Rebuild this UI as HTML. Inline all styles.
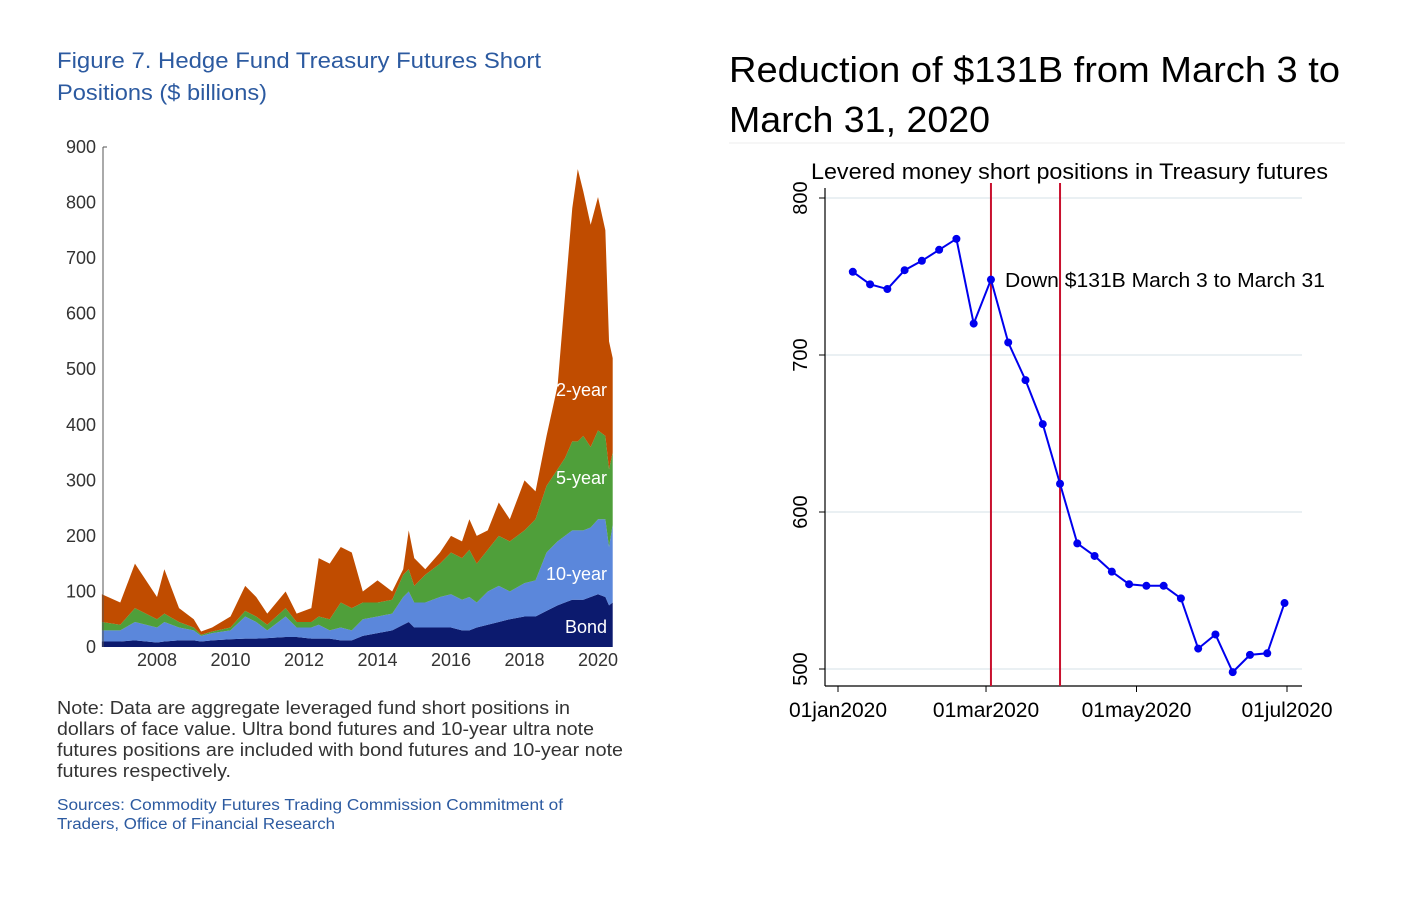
<!DOCTYPE html>
<html><head><meta charset="utf-8"><style>
html,body{margin:0;padding:0;background:#fff;width:1426px;height:902px;overflow:hidden}
svg{display:block}
</style></head><body>
<svg id="root" width="1426" height="902" xmlns="http://www.w3.org/2000/svg">
<g font-family="Liberation Sans, sans-serif">
<text x="57" y="68" font-size="22" fill="#2c5aa0" textLength="484" lengthAdjust="spacingAndGlyphs">Figure 7. Hedge Fund Treasury Futures Short</text>
<text x="57" y="100" font-size="22" fill="#2c5aa0" textLength="210" lengthAdjust="spacingAndGlyphs">Positions ($ billions)</text>
<g id="left"></g>
<g font-size="18" fill="#333">
<text x="57" y="714" textLength="513" lengthAdjust="spacingAndGlyphs">Note: Data are aggregate leveraged fund short positions in</text>
<text x="57" y="735" textLength="537" lengthAdjust="spacingAndGlyphs">dollars of face value. Ultra bond futures and 10-year ultra note</text>
<text x="57" y="756" textLength="566" lengthAdjust="spacingAndGlyphs">futures positions are included with bond futures and 10-year note</text>
<text x="57" y="777" textLength="174" lengthAdjust="spacingAndGlyphs">futures respectively.</text>
</g>
<g font-size="15.5" fill="#2c5aa0">
<text x="57" y="810" textLength="506" lengthAdjust="spacingAndGlyphs">Sources: Commodity Futures Trading Commission Commitment of</text>
<text x="57" y="829" textLength="278" lengthAdjust="spacingAndGlyphs">Traders, Office of Financial Research</text>
</g>
<text x="729" y="82" font-size="36" fill="#000" textLength="611" lengthAdjust="spacingAndGlyphs">Reduction of $131B from March 3 to</text>
<text x="729" y="132" font-size="36" fill="#000" textLength="261" lengthAdjust="spacingAndGlyphs">March 31, 2020</text>
<line x1="729" y1="143" x2="1345" y2="143" stroke="#eee"/>
<text x="811" y="179" font-size="22" fill="#000" textLength="517" lengthAdjust="spacingAndGlyphs">Levered money short positions in Treasury futures</text>
<g id="right"></g>
</g>
</svg>
<script>
// Left chart data
const years = [2006.5,2007.0,2007.4,2008.0,2008.2,2008.6,2009.0,2009.2,2009.5,2010.0,2010.4,2010.7,2011.0,2011.5,2011.8,2012.2,2012.4,2012.7,2013.0,2013.3,2013.6,2014.0,2014.4,2014.7,2014.85,2015.0,2015.3,2015.7,2016.0,2016.3,2016.5,2016.7,2017.0,2017.3,2017.6,2018.0,2018.3,2018.6,2018.9,2019.1,2019.3,2019.45,2019.6,2019.8,2020.0,2020.2,2020.3,2020.4];
const bondVals = [10,10,12,8,10,12,12,10,12,14,15,15,16,18,18,15,15,15,12,12,20,25,30,40,45,35,35,35,35,30,30,35,40,45,50,55,55,65,75,80,85,85,85,90,95,90,75,80];
const tenYearVals = [20,20,33,27,35,23,18,10,13,16,40,30,14,37,17,20,25,15,23,18,30,30,30,50,55,45,45,55,60,55,60,45,60,65,50,60,65,105,115,120,125,125,125,125,135,140,105,140];
const fiveYearVals = [15,10,25,15,15,10,5,2,3,5,10,10,10,15,10,10,15,20,45,40,30,25,25,40,40,30,50,60,75,75,85,70,75,90,90,95,110,120,130,140,160,160,170,145,160,150,140,130];
const twoYearVals = [50,40,80,40,80,25,15,6,7,20,45,35,20,30,15,25,105,100,100,100,20,40,15,10,70,50,10,20,30,30,55,50,35,60,40,90,50,90,150,290,420,490,440,400,420,370,230,170];
const leftYTicks = [0,100,200,300,400,500,600,700,800,900];
const leftXTicks = [2008,2010,2012,2014,2016,2018,2020];
const layerNames = ['Bond','10-year','5-year','2-year'];

// Right chart data
const weekDays = [6,13,20,27,34,41,48,55,62,69,76,83,90,97,104,111,118,125,132,139,146,153,160,167,174,181];
const shortVals = [753,745,742,754,760,767,774,720,748,708,684,656,618,580,572,562,554,553,553,545,513,522,498,509,510,542];
const rightYTicks = [500,600,700,800];
const rightXTickDays = [0,60,121,182];
const rightXTickLabels = ['01jan2020','01mar2020','01may2020','01jul2020'];
const eventDays = [62,90];

const NS='http://www.w3.org/2000/svg';
function mk(tag,attrs,parent,txt){const e=document.createElementNS(NS,tag);for(const k in attrs)e.setAttribute(k,attrs[k]);if(txt!==undefined)e.textContent=txt;parent.appendChild(e);return e;}

// LEFT
const L=document.getElementById('left');
const lx=v=>157+(v-2008)*36.75;
const ly=v=>647-v*0.5556;
const colors=['#0c1a6e','#5b87db','#4f9f3a','#c04c00'];
const layers=[bondVals,tenYearVals,fiveYearVals,twoYearVals];
let base=years.map(()=>0);
layers.forEach((vals,li)=>{
  const top=base.map((b,i)=>b+vals[i]);
  let d='M'+lx(years[0])+','+ly(top[0]);
  for(let i=1;i<years.length;i++)d+='L'+lx(years[i])+','+ly(top[i]);
  for(let i=years.length-1;i>=0;i--)d+='L'+lx(years[i])+','+ly(base[i]);
  d+='Z';
  const p=mk('path',{d:d,fill:colors[li]},L);
  
  
  base=top;
});
mk('line',{x1:103,y1:147,x2:103,y2:647,stroke:'#555','stroke-width':1},L);
leftYTicks.forEach(v=>{
  const t=mk('text',{x:96,y:ly(v)+6,'font-size':18,fill:'#333','text-anchor':'end'},L,String(v));
  
  
});
mk('line',{x1:103,y1:147,x2:107,y2:147,stroke:'#555'},L);
leftXTicks.forEach(v=>{
  const t=mk('text',{x:lx(v),y:666,'font-size':18,fill:'#333','text-anchor':'middle'},L,String(v));
  
  
});
[['2-year',396],['5-year',484],['10-year',580],['Bond',633]].forEach(a=>{
  const t=mk('text',{x:607,y:a[1],'font-size':18,fill:'#fff','text-anchor':'end'},L,a[0]);
  
  
});

// RIGHT
const R=document.getElementById('right');
const rx=d=>838+d*2.467;
const ry=v=>669-(v-500)*1.57;
rightYTicks.forEach(v=>{
  const g=mk('line',{x1:825,y1:ry(v),x2:1302,y2:ry(v),stroke:'#e3ecef','stroke-width':1.5},R);
  
  
  mk('line',{x1:819,y1:ry(v),x2:825,y2:ry(v),stroke:'#000'},R);
  const t=mk('text',{x:0,y:0,'font-size':20,fill:'#000','text-anchor':'middle',transform:`translate(807,${ry(v)}) rotate(-90)`},R,String(v));
  
  
});
mk('line',{x1:825,y1:188,x2:825,y2:686,stroke:'#000','stroke-width':1.2},R);
mk('line',{x1:825,y1:686,x2:1302,y2:686,stroke:'#000','stroke-width':1.2},R);
rightXTickDays.forEach((d,i)=>{
  mk('line',{x1:rx(d),y1:686,x2:rx(d),y2:692,stroke:'#000'},R);
  const t=mk('text',{x:rx(d),y:717,'font-size':21,fill:'#000','text-anchor':'middle'},R,rightXTickLabels[i]);
  
  
});
eventDays.forEach(d=>{
  const l=mk('line',{x1:rx(d),y1:183,x2:rx(d),y2:686,stroke:'#c8102e','stroke-width':2},R);
  
  
});
const pts=weekDays.map((d,i)=>rx(d)+','+ry(shortVals[i])).join(' ');
const pl=mk('polyline',{points:pts,fill:'none',stroke:'#0000ee','stroke-width':2},R);


weekDays.forEach((d,i)=>{
  const c=mk('circle',{cx:rx(d),cy:ry(shortVals[i]),r:4,fill:'#0000ee'},R);
  
  
});
const ann=mk('text',{x:1005,y:287,'font-size':20,fill:'#000',textLength:320,lengthAdjust:'spacingAndGlyphs'},R,'Down $131B March 3 to March 31');


</script>
</body></html>
